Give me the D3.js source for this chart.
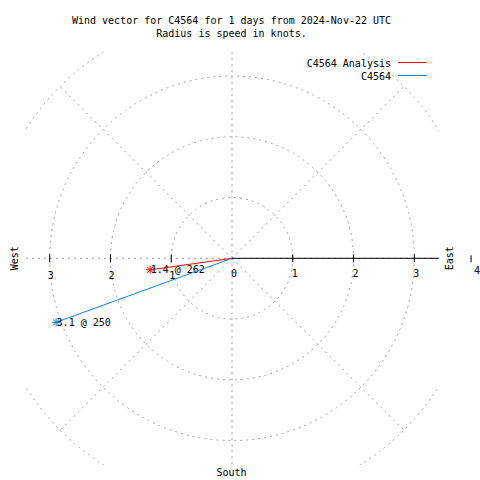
<!DOCTYPE html>
<html><head><meta charset="utf-8">
<script src="https://cdn.jsdelivr.net/npm/d3@7"></script>
<style>body{margin:0;background:#fff}svg{display:block}text{font-family:"DejaVu Sans Mono",monospace;font-size:10px;fill:#000}</style>
</head><body>
<script>
const titleLines = ["Wind vector for C4564 for 1 days from 2024-Nov-22 UTC", "Radius is speed in knots."];
const seriesNames = ["C4564 Analysis", "C4564"];
const seriesColors = ["#ff0000", "#0a80ff"];
const speeds = [1.36, 3.08];
const directions = [262, 250];
const ringValues = [1, 2, 3, 4];
const spokeAngles = [0, 45, 90, 135, 180, 225, 270, 315];
const tickValues = [1, 2, 3];
const tickLabels = ["0", "1", "2", "3"];
const viewMax = 3.4;
const compassLabels = ["East", "West", "South"];

const W = 480, H = 480, cx = 232, cy = 258.3;
const r = d3.scaleLinear().domain([0, 4]).range([0, 243.1]);
const svg = d3.select("body").append("svg").attr("width", W).attr("height", H);

svg.append("g").selectAll("text").data(titleLines).join("text")
  .attr("x", 231.5).attr("y", (d, i) => 24 + i * 13).attr("text-anchor", "middle").text(d => d);

svg.append("defs").append("clipPath").attr("id", "clip").append("rect")
  .attr("x", cx - r(viewMax)).attr("y", cy - r(viewMax)).attr("width", 2 * r(viewMax)).attr("height", 2 * r(viewMax));

const grid = svg.append("g").attr("clip-path", "url(#clip)")
  .attr("fill", "none").attr("stroke", "#a0a0a0").attr("stroke-dasharray", "2,4");
grid.selectAll("circle").data(ringValues).join("circle")
  .attr("cx", cx).attr("cy", cy).attr("r", d => r(d));
grid.selectAll("line").data(spokeAngles).join("line")
  .attr("x1", cx).attr("y1", cy)
  .attr("x2", d => cx + r(4) * Math.cos(d * Math.PI / 180))
  .attr("y2", d => cy - r(4) * Math.sin(d * Math.PI / 180));

// East axis
svg.append("line").attr("x1", cx).attr("y1", cy).attr("x2", cx + r(viewMax)).attr("y2", cy).attr("stroke", "#000");
const ticks = svg.append("g").attr("stroke", "#000");
tickValues.forEach(v => {
  [1, -1].forEach(s => {
    ticks.append("line").attr("x1", cx + s * r(v)).attr("x2", cx + s * r(v)).attr("y1", cy - 4).attr("y2", cy + 4);
  });
});
ticks.append("line").attr("x1", cx + r(4) - 4).attr("x2", cx + r(4) - 4).attr("y1", cy - 3).attr("y2", cy + 4);

const tl = svg.append("g").attr("text-anchor", "middle");
tickLabels.forEach((t, i) => {
  tl.append("text").attr("x", cx + r(i) + 2).attr("y", cy + 19).text(t);
  if (i > 0) tl.append("text").attr("x", cx - r(i) + 1).attr("y", cy + 20.5).text(t);
});
tl.append("text").attr("x", cx + r(4) + 2).attr("y", cy + 16).text("4");

svg.append("text").attr("transform", `translate(453,${cy}) rotate(-90)`).attr("text-anchor", "middle").text(compassLabels[0]);
svg.append("text").attr("transform", `translate(18,${cy}) rotate(-90)`).attr("text-anchor", "middle").text(compassLabels[1]);
svg.append("text").attr("x", 231.5).attr("y", 476).attr("text-anchor", "middle").text(compassLabels[2]);

// vectors
const pts = speeds.map((s, i) => {
  const a = directions[i] * Math.PI / 180;
  return { x: cx + r(s) * Math.sin(a), y: cy - r(s) * Math.cos(a), s, d: directions[i], c: seriesColors[i] };
});
const vg = svg.append("g");
pts.forEach(p => {
  vg.append("line").attr("x1", cx).attr("y1", cy).attr("x2", p.x).attr("y2", p.y).attr("stroke", p.c);
  const m = 4;
  vg.append("path").attr("stroke", p.c).attr("fill", "none")
    .attr("d", `M${p.x - m},${p.y}H${p.x + m}M${p.x},${p.y - m}V${p.y + m}M${p.x - m + 1},${p.y - m + 1}L${p.x + m - 1},${p.y + m - 1}M${p.x - m + 1},${p.y + m - 1}L${p.x + m - 1},${p.y - m + 1}`);
  vg.append("text").attr("x", p.x + 0.5).attr("y", p.y + 3.5).text(`${p.s.toFixed(1)} @ ${p.d}`);
});

// legend
const lg = svg.append("g");
seriesNames.forEach((n, i) => {
  lg.append("text").attr("x", 391).attr("y", 66.5 + i * 13).attr("text-anchor", "end").text(n);
  lg.append("line").attr("x1", 398).attr("x2", 427).attr("y1", 62.5 + i * 13).attr("y2", 62.5 + i * 13).attr("stroke", seriesColors[i]);
});
</script>
</body></html>
